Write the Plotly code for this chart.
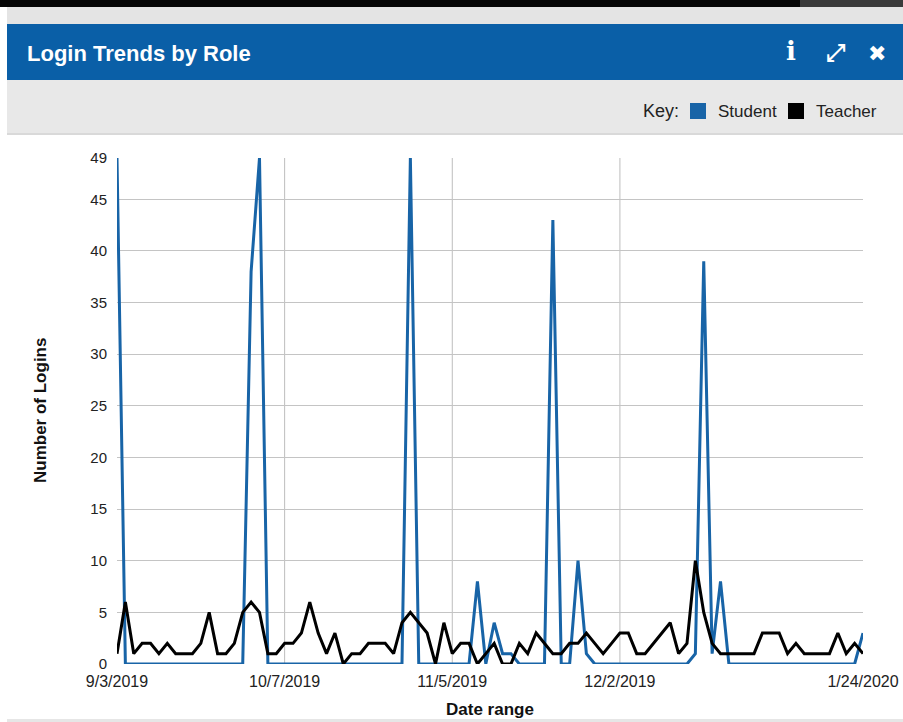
import plotly.graph_objects as go

# ---------------- data ----------------
student = [49, 0, 0, 0, 0, 0, 0, 0, 0, 0,
           0, 0, 0, 0, 0, 0, 38, 49, 0, 0,
           0, 0, 0, 0, 0, 0, 0, 0, 0, 0,
           0, 0, 0, 0, 0, 49, 0, 0, 0, 0,
           0, 0, 0, 8, 0, 4, 1, 1, 0, 0,
           0, 0, 43, 0, 0, 10, 1, 0, 0, 0,
           0, 0, 0, 0, 0, 0, 0, 0, 0, 1,
           39, 1, 8, 0, 0, 0, 0, 0, 0, 0,
           0, 0, 0, 0, 0, 0, 0, 0, 0, 3]
teacher = [1, 6, 1, 2, 2, 1, 2, 1, 1, 1,
           2, 5, 1, 1, 2, 5, 6, 5, 1, 1,
           2, 2, 3, 6, 3, 1, 3, 0, 1, 1,
           2, 2, 2, 1, 4, 5, 4, 3, 0, 4,
           1, 2, 2, 0, 1, 2, 0, 0, 2, 1,
           3, 2, 1, 1, 2, 2, 3, 2, 1, 2,
           3, 3, 1, 1, 2, 3, 4, 1, 2, 10,
           5, 2, 1, 1, 1, 1, 1, 3, 3, 3,
           1, 2, 1, 1, 1, 1, 3, 1, 2, 1]
day_index = list(range(len(student)))
date_tick_index = [0, 20, 40, 60, 89]
date_tick_labels = ["9/3/2019", "10/7/2019", "11/5/2019", "12/2/2019", "1/24/2020"]
date_grid_index = [20, 40, 60]
y_ticks = [0, 5, 10, 15, 20, 25, 30, 35, 40, 45]
y_max = 49

# ---------------- geometry helpers ----------------
W, H = 903, 722
L, R, T, B = 117, 863, 158, 664


def px(x):
    return (x - L) / (R - L)


def py(y):
    return (B - y) / (B - T)


BLUE_HDR = "#0a5fa7"
BLUE_LINE = "#1864a7"
FONT = "Liberation Sans, Arial, sans-serif"

fig = go.Figure()
fig.add_trace(go.Scatter(x=day_index, y=student, mode="lines", name="Student",
                         line=dict(color=BLUE_LINE, width=3), showlegend=False))
fig.add_trace(go.Scatter(x=day_index, y=teacher, mode="lines", name="Teacher",
                         line=dict(color="#000000", width=3), showlegend=False))

shapes = []


def rect(x0, y0, x1, y1, color):
    shapes.append(dict(type="rect", xref="paper", yref="paper",
                       x0=px(x0), x1=px(x1), y0=py(y1), y1=py(y0),
                       fillcolor=color, line=dict(width=0), layer="below"))


rect(0, 0, W, 7, "#050505")
rect(800, 0, W, 7, "#3a3a3a")
rect(7, 7, W, 24, "#e4e4e4")
rect(7, 24, W, 80, BLUE_HDR)
rect(7, 80, W, 133, "#e8e8e8")
rect(7, 133, W, 135, "#d9d9d9")
rect(7, 719, W, H, "#e6e6e6")
# key swatches
rect(690, 103, 706, 119, BLUE_LINE)
rect(788, 103, 804, 119, "#000000")

# vertical grid lines
for gi in date_grid_index:
    shapes.append(dict(type="line", xref="x", yref="y", x0=gi, x1=gi, y0=0, y1=y_max,
                       line=dict(color="#bdbdbd", width=1), layer="below"))

annotations = [
    dict(text="<b>Login Trends by Role</b>", x=px(25), y=py(53), xref="paper", yref="paper",
         xanchor="left", yanchor="middle", showarrow=False,
         font=dict(family=FONT, size=22, color="white")),
    dict(text="<b>i</b>", x=px(791), y=py(51), xref="paper", yref="paper",
         xanchor="center", yanchor="middle", showarrow=False,
         font=dict(family="DejaVu Serif", size=26, color="white")),
    dict(text="<b>⤢</b>", x=px(836), y=py(53), xref="paper", yref="paper",
         xanchor="center", yanchor="middle", showarrow=False,
         font=dict(family="DejaVu Sans", size=24, color="white")),
    dict(text="✖", x=px(877), y=py(53), xref="paper", yref="paper",
         xanchor="center", yanchor="middle", showarrow=False,
         font=dict(family="DejaVu Sans", size=22, color="white")),
    dict(text="Key:", x=px(641), y=py(111), xref="paper", yref="paper",
         xanchor="left", yanchor="middle", showarrow=False,
         font=dict(family=FONT, size=18, color="#222222")),
    dict(text="Student", x=px(716), y=py(111), xref="paper", yref="paper",
         xanchor="left", yanchor="middle", showarrow=False,
         font=dict(family=FONT, size=17, color="#222222")),
    dict(text="Teacher", x=px(814), y=py(111), xref="paper", yref="paper",
         xanchor="left", yanchor="middle", showarrow=False,
         font=dict(family=FONT, size=17, color="#222222")),
    dict(text="<b>Number of Logins</b>", x=px(40), y=py(411), xref="paper", yref="paper",
         xanchor="center", yanchor="middle", showarrow=False, textangle=-90,
         font=dict(family=FONT, size=17, color="#111111")),
    dict(text="<b>Date range</b>", x=px(490), y=py(709), xref="paper", yref="paper",
         xanchor="center", yanchor="middle", showarrow=False,
         font=dict(family=FONT, size=17, color="#111111")),
]

fig.update_layout(
    width=W, height=H,
    margin=dict(l=L, r=W - R, t=T, b=H - B, pad=0, autoexpand=False),
    paper_bgcolor="white", plot_bgcolor="white",
    shapes=shapes, annotations=annotations,
    xaxis=dict(range=[0, len(student) - 1], tickmode="array",
               tickvals=date_tick_index, ticktext=date_tick_labels,
               showgrid=False, zeroline=False, showline=False, ticks="",
               ticklabelstandoff=6, automargin=False,
               tickfont=dict(family=FONT, size=16, color="#222222")),
    yaxis=dict(range=[0, y_max], tickmode="array", tickvals=y_ticks,
               showgrid=True, gridcolor="#c4c4c4", gridwidth=1,
               zeroline=False, showline=False, ticks="",
               ticklabelstandoff=9, automargin=False,
               tickfont=dict(family=FONT, size=15, color="#222222")),
    yaxis2=dict(range=[0, y_max], overlaying="y", side="left", anchor="x",
                tickmode="array", tickvals=[y_max], showgrid=False,
                zeroline=False, showline=False, ticks="", ticklabelstandoff=9,
                automargin=False,
                tickfont=dict(family=FONT, size=15, color="#222222")),
)
# invisible trace so the secondary axis (carrying the top "49" label) renders
fig.add_trace(go.Scatter(x=[0], y=[0], yaxis="y2", mode="markers",
                         marker=dict(opacity=0), showlegend=False, hoverinfo="skip"))

fig.write_html("out.html")
